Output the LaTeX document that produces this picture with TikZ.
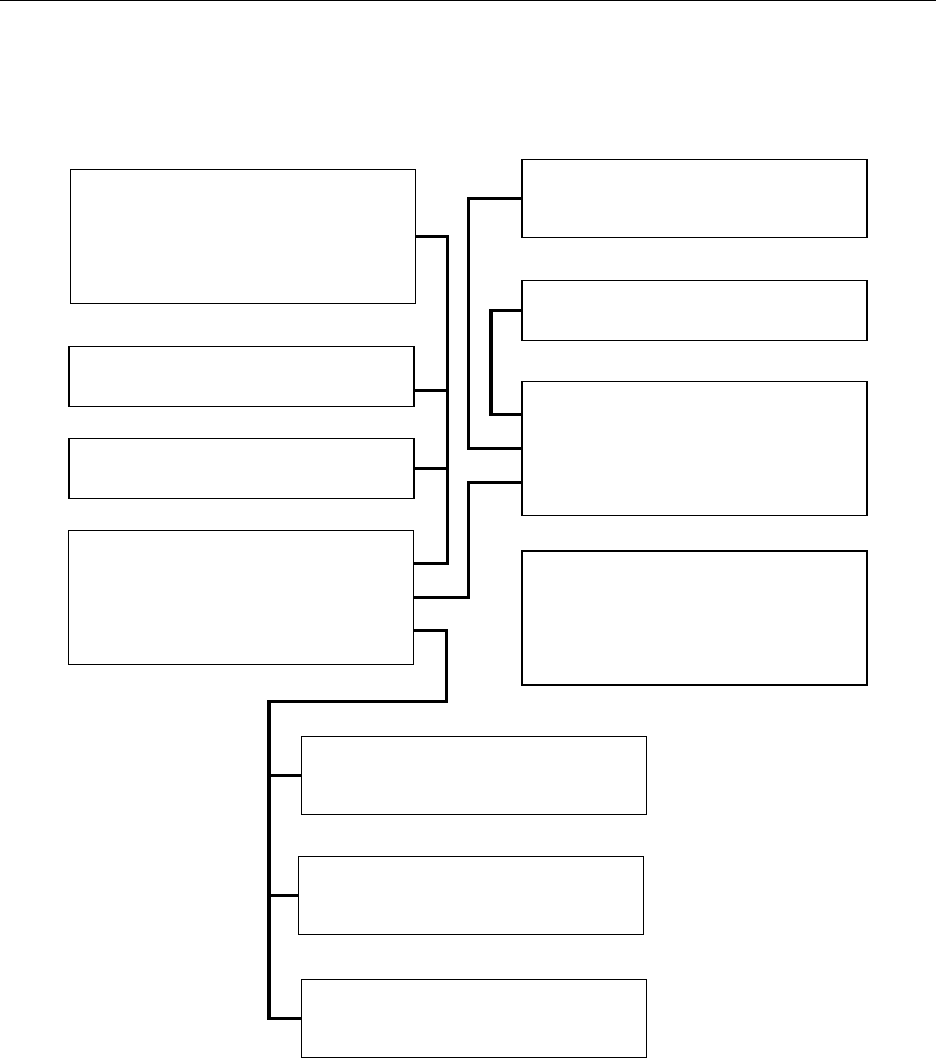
\documentclass[tikz,border=0pt]{standalone}
\usepackage{tikz}
\usetikzlibrary{positioning, calc}

\begin{document}
\begin{tikzpicture}[
    x=1pt, y=-1pt,
    blockbox/.style={rectangle, draw=black, fill=white, line width=1.2pt, inner sep=0pt, outer sep=0pt, minimum width=345pt},
    tallbox/.style={blockbox, minimum height=134pt},
    midbox/.style={blockbox, minimum height=78pt},
    lowbox/.style={blockbox, minimum height=60pt},
    conn/.style={line width=3.2pt, black},
    rule/.style={line width=1pt, black},
]
\useasboundingbox (0,0) rectangle (936,1058);

\draw[rule] (0,0.5) -- (936,0.5);

% left column
\node[tallbox] (l1) at (243.3,236.3) {};
\node[lowbox]  (l2) at (241.5,376.5) {};
\node[lowbox]  (l3) at (241.5,468.5) {};
\node[tallbox] (l4) at (240.8,597.3) {};

% right column
\node[midbox]  (r1) at (694.5,198.3) {};
\node[lowbox]  (r2) at (694.5,310.3) {};
\node[tallbox] (r3) at (694.5,448.3) {};
\node[tallbox] (r4) at (694.5,618.0) {};

% bottom column
\node[midbox] (b1) at (474.0,775.3) {};
\node[midbox] (b2) at (471.0,895.3) {};
\node[midbox] (b3) at (474.0,1018.3) {};

\coordinate (lbus) at (447.7,563.3);
\coordinate (bbus) at (269.0,701.7);

\draw[conn] (l1.east) -| (lbus) -- ([yshift=34pt]l4.east);
\draw[conn] ([yshift=-14pt]l2.east) -- +(34,0);
\draw[conn] (l3.east) -- (l3.east -| lbus);

\draw[conn] (r1.west) -| (468.3,448.3) -- (r3.west);
\draw[conn] (r2.west) -- ++(-31,0) |- ([yshift=34pt]r3.west);
\draw[conn] (l4.east) -- ++(55,0) |- ([yshift=-34pt]r3.west);

\draw[conn] ([yshift=-33pt]l4.east) -| (446.7,701.7) -- (bbus) |- (b3.west);
\draw[conn] (b1.west) -- (b1.west -| bbus);
\draw[conn] (b2.west) -- (b2.west -| bbus);

\end{tikzpicture}
\end{document}
